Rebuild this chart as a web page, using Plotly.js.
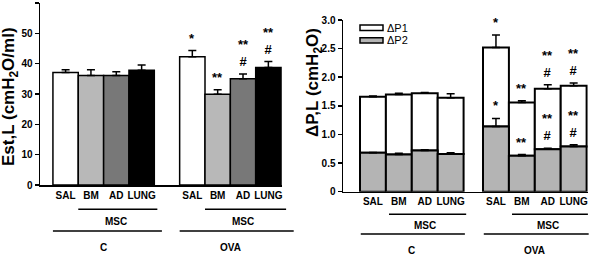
<!DOCTYPE html>
<html><head><meta charset="utf-8">
<script src="https://cdn.plot.ly/plotly-3.0.1.min.js"></script>
<style>html,body{margin:0;padding:0;background:#fff;} #chart{width:601px;height:255px;}</style>
</head><body><div id="chart"></div>
<script>
// ---- data ----
const groups = ['C', 'OVA'];
const treatments = ['SAL', 'BM', 'AD', 'LUNG'];
const mscLabel = 'MSC';
// Left panel: Est,L (cmH2O/ml)
const estMean = [37.1, 36.1, 36.1, 37.8, 42.3, 29.9, 35.0, 38.7];
const estErr  = [0.9, 1.9, 1.2, 1.8, 2.0, 1.5, 1.6, 2.0];
const estSig  = ['', '', '', '', '*', '**', '**<br>#', '**<br>#'];
const estTicks = [0, 10, 20, 30, 40, 50, 60];
// Right panel: ΔP,L (cmH2O), stacked ΔP2 (bottom) + ΔP1 (top)
const seriesNames = ['ΔP1', 'ΔP2'];
const dpTotal    = [1.66, 1.70, 1.72, 1.64, 2.52, 1.56, 1.80, 1.85];
const dpTotalErr = [0.01, 0.02, 0.015, 0.07, 0.22, 0.03, 0.07, 0.05];
const dp2        = [0.68, 0.65, 0.72, 0.66, 1.14, 0.63, 0.74, 0.79];
const dp2Err     = [0.005, 0.02, 0.015, 0.02, 0.14, 0.02, 0.02, 0.03];
const dpTotalSig = ['', '', '', '', '*', '**', '**<br>#', '**<br>#'];
const dp2Sig     = ['', '', '', '', '*', '**', '**<br>#', '**<br>#'];
const dpTickVals = [0, 0.5, 1, 1.5, 2, 2.5, 3];
const dpTickText = ['0', '0.5', '1.0', '1.5', '2.0', '2.5', '3.0'];

// ---- styling / layout ----
const W = 601, H = 255;
const FAM = 'Liberation Sans, Arial, sans-serif';
const bold = (s) => ({family: FAM, size: s, color: '#000', weight: 'bold'});
const estColors = ['#ffffff', '#b8b8b8', '#787878', '#000000'];
const dp1Color = '#ffffff', dp2Color = '#b4b4b4';

const L = {dom: [40, 282.3], range: [-1.01, 8.55], gap: 1.0, yDom: [185, 3]};
const R = {dom: [343, 587.9], range: [-1.156, 8.3], gap: 0.75, yDom: [191.7, 20]};
function positions(ch) {
  const p = [];
  groups.forEach((g, gi) => treatments.forEach((t, ti) => p.push(gi * (treatments.length + ch.gap) + ti)));
  return p;
}
const posL = positions(L), posR = positions(R);
const catText = [];
groups.forEach(() => treatments.forEach(t => catText.push(t)));
function pxX(ch, p) { return ch.dom[0] + (p - ch.range[0]) / (ch.range[1] - ch.range[0]) * (ch.dom[1] - ch.dom[0]); }
const px2x = (v) => v / W, px2y = (v) => 1 - v / H;

const errStyle = (arr) => ({type: 'data', array: arr, arrayminus: arr.map(() => 0), symmetric: false,
  visible: true, color: '#000', thickness: 1.5, width: 4});

const dp1 = dpTotal.map((t, i) => +(t - dp2[i]).toFixed(3));

const traces = [
  {type: 'bar', x: posL, y: estMean, width: 1, xaxis: 'x', yaxis: 'y',
   marker: {color: posL.map((_, i) => estColors[i % 4]), line: {color: '#000', width: 1.5}},
   error_y: errStyle(estErr), showlegend: false, hoverinfo: 'skip'},
  {type: 'bar', name: seriesNames[0], x: posR, y: dp1, base: dp2, width: 1, xaxis: 'x2', yaxis: 'y2',
   marker: {color: dp1Color, line: {color: '#000', width: 2}},
   error_y: errStyle(dpTotalErr), showlegend: false, hoverinfo: 'skip'},
  {type: 'bar', name: seriesNames[1], x: posR, y: dp2, width: 1, xaxis: 'x2', yaxis: 'y2',
   marker: {color: dp2Color, line: {color: '#000', width: 2}},
   error_y: errStyle(dp2Err), showlegend: false, hoverinfo: 'skip'}
];

const annotations = [];
const shapes = [];
function sig(xref, yref, pos, tops, marks) {
  marks.forEach((m, i) => {
    if (!m) return;
    annotations.push({xref, yref, x: pos[i], y: tops[i], text: m, showarrow: false,
      yanchor: 'bottom', yshift: 3, font: bold(13)});
  });
}
sig('x', 'y', posL, estMean.map((v, i) => v + estErr[i]), estSig);
sig('x2', 'y2', posR, dpTotal.map((v, i) => v + dpTotalErr[i]), dpTotalSig);
sig('x2', 'y2', posR, dp2.map((v, i) => v + dp2Err[i]), dp2Sig);

function groupDecor(ch, pos, cfg) {
  groups.forEach((g, gi) => {
    const idx = treatments.map((_, ti) => gi * treatments.length + ti);
    const msc = idx.slice(1);
    const mscA = pxX(ch, pos[msc[0]] - 0.5 + cfg.mscL), mscB = pxX(ch, pos[msc[msc.length - 1]] + 0.5 + cfg.mscR[gi]);
    const allA = pxX(ch, pos[idx[0]] - 0.5 + cfg.allL), allB = pxX(ch, pos[idx[idx.length - 1]] + 0.5 + cfg.allR[gi]);
    shapes.push({type: 'line', xref: 'paper', yref: 'paper', x0: px2x(mscA), x1: px2x(mscB),
      y0: px2y(cfg.mscLineY), y1: px2y(cfg.mscLineY), line: {color: '#000', width: 1.5}});
    shapes.push({type: 'line', xref: 'paper', yref: 'paper', x0: px2x(allA), x1: px2x(allB),
      y0: px2y(cfg.allLineY), y1: px2y(cfg.allLineY), line: {color: '#000', width: 1.5}});
    const mscC = msc.reduce((s, i) => s + pos[i], 0) / msc.length;
    const allC = idx.reduce((s, i) => s + pos[i], 0) / idx.length;
    annotations.push({xref: 'paper', yref: 'paper', x: px2x(pxX(ch, mscC)), y: px2y(cfg.mscTextY),
      text: mscLabel, showarrow: false, xanchor: 'center', yanchor: 'middle', font: bold(10)});
    annotations.push({xref: 'paper', yref: 'paper', x: px2x(pxX(ch, allC)), y: px2y(cfg.grpTextY),
      text: g, showarrow: false, xanchor: 'center', yanchor: 'middle', font: bold(10)});
  });
}
groupDecor(L, posL, {mscL: 0, mscR: [0.12, 0.2], allL: 0, allR: [0.3, 0.5],
  mscLineY: 209.3, allLineY: 231, mscTextY: 221.7, grpTextY: 247.3});
groupDecor(R, posR, {mscL: 0.12, mscR: [0.1, 0.05], allL: 0.03, allR: [0.05, 0.08],
  mscLineY: 214.3, allLineY: 234, mscTextY: 225, grpTextY: 250.7});

// y titles
annotations.push({xref: 'paper', yref: 'paper', x: px2x(10), y: px2y(97), textangle: -90,
  text: 'Est,L (cmH<sub>2</sub>O/ml)', showarrow: false, xanchor: 'center', yanchor: 'middle', font: bold(17)});
annotations.push({xref: 'paper', yref: 'paper', x: px2x(314), y: px2y(83), textangle: -90,
  text: 'ΔP,L (cmH<sub>2</sub>O)', showarrow: false, xanchor: 'center', yanchor: 'middle', font: bold(17)});

// legend (drawn manually)
[[25, 30.5, dp1Color], [37.7, 43, dp2Color]].forEach((r, i) => {
  shapes.push({type: 'rect', xref: 'paper', yref: 'paper', x0: px2x(360), x1: px2x(383),
    y0: px2y(r[1]), y1: px2y(r[0]), fillcolor: r[2], line: {color: '#000', width: 1.5}});
  annotations.push({xref: 'paper', yref: 'paper', x: px2x(385), y: px2y((r[0] + r[1]) / 2),
    text: seriesNames[i], showarrow: false, xanchor: 'left', yanchor: 'middle',
    font: {family: FAM, size: 11, color: '#000'}});
});

const xBase = {showline: true, linewidth: 1.5, linecolor: '#000', ticks: '', showgrid: false,
  zeroline: false, tickfont: bold(10), ticktext: catText, tickmode: 'array', fixedrange: true};
const yBase = {showline: true, linewidth: 1.5, linecolor: '#000', ticks: 'outside', ticklen: 4,
  tickwidth: 1.5, tickcolor: '#000', showgrid: false, zeroline: false, tickfont: bold(10),
  tickmode: 'array', fixedrange: true};

const layout = {
  width: W, height: H, margin: {l: 0, r: 0, t: 0, b: 0}, paper_bgcolor: '#fff', plot_bgcolor: '#fff',
  barmode: 'overlay', showlegend: false,
  xaxis: Object.assign({}, xBase, {domain: [L.dom[0] / W, L.dom[1] / W], range: L.range, tickvals: posL, anchor: 'y'}),
  yaxis: Object.assign({}, yBase, {domain: [px2y(L.yDom[0]), px2y(L.yDom[1])], range: [0, 60],
    tickvals: estTicks, ticktext: estTicks.map(String), anchor: 'x'}),
  xaxis2: Object.assign({}, xBase, {domain: [R.dom[0] / W, R.dom[1] / W], range: R.range, tickvals: posR, anchor: 'y2'}),
  yaxis2: Object.assign({}, yBase, {domain: [px2y(R.yDom[0]), px2y(R.yDom[1])], range: [0, 3],
    tickvals: dpTickVals, ticktext: dpTickText, anchor: 'x2'}),
  annotations, shapes
};
Plotly.newPlot('chart', traces, layout, {displayModeBar: false, staticPlot: true});
</script></body></html>
